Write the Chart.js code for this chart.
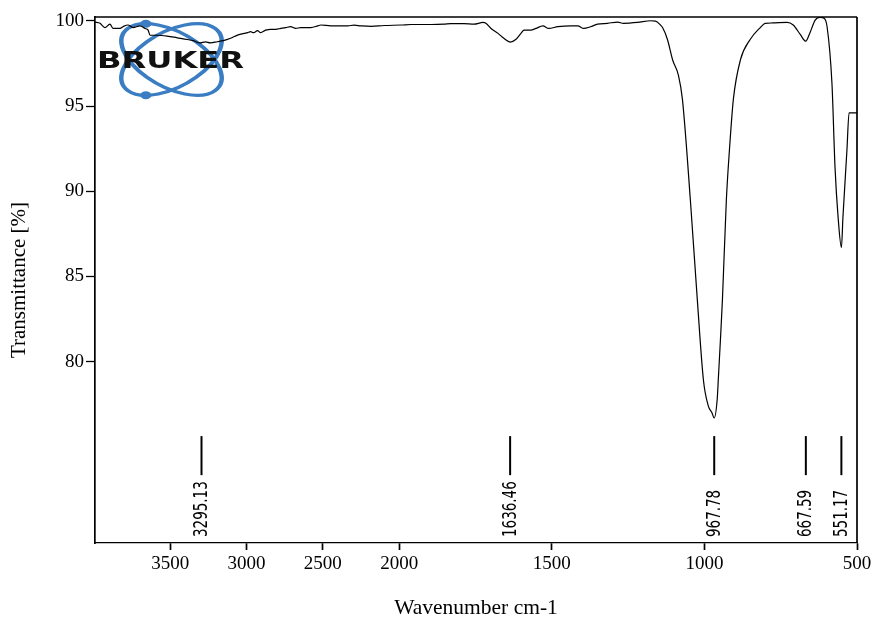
<!DOCTYPE html>
<html>
<head>
<meta charset="utf-8">
<script src="https://cdn.jsdelivr.net/npm/chart.js@4.4.1/dist/chart.umd.min.js"></script>
<style>
  html, body { margin: 0; padding: 0; background: #fff; }
  canvas { display: block; }
</style>
</head>
<body>
<canvas id="chart" width="872" height="622"></canvas>
<script>
// spectrum (wavenumber cm-1 / transmittance %)
var WAVENUMBER = [3993, 3960, 3928, 3895, 3875, 3850, 3829, 3810, 3777, 3744, 3698, 3665, 3645, 3632, 3586,
  3520, 3454, 3388, 3349, 3303, 3270, 3237, 3191, 3152, 3105, 3059, 2993, 2974, 2954, 2928, 2908, 2875,
  2842, 2809, 2776, 2743, 2711, 2678, 2645, 2579, 2533, 2513, 2447, 2382, 2336, 2296, 2250, 2184, 2099,
  1993, 1961, 1895, 1853, 1830, 1788, 1755, 1725, 1716, 1699, 1676, 1657, 1636, 1618, 1601, 1591, 1569,
  1552, 1529, 1510, 1480, 1438, 1415, 1395, 1373, 1350, 1317, 1284, 1265, 1219, 1176, 1160, 1144, 1137,
  1121, 1104, 1085, 1072, 1046, 1023, 1003, 987, 975, 968, 958, 954, 948, 941, 928, 918, 905, 882,
  850, 817, 801, 778, 729, 709, 686, 668, 654, 637, 621, 608, 598,
  582, 572, 562, 551, 546, 533, 526, 500];
var TRANSMITTANCE = [99.92, 99.85, 99.6, 99.8, 99.55, 99.55, 99.55, 99.65, 99.75, 99.6, 99.7, 99.55, 99.45, 99.15, 99.15,
  99.1, 99.0, 98.9, 98.83, 98.7, 98.76, 98.7, 98.77, 98.83, 98.97, 99.16, 99.3, 99.36, 99.3, 99.42, 99.3, 99.45,
  99.5, 99.5, 99.55, 99.6, 99.65, 99.55, 99.6, 99.6, 99.7, 99.75, 99.7, 99.7, 99.7, 99.74, 99.7, 99.67, 99.72,
  99.75, 99.78, 99.78, 99.8, 99.83, 99.83, 99.8, 99.9, 99.85, 99.55, 99.26, 98.97, 98.75, 98.9, 99.26, 99.45, 99.45,
  99.55, 99.7, 99.55, 99.65, 99.7, 99.7, 99.55, 99.65, 99.8, 99.85, 99.92, 99.85, 99.9, 100.0, 99.98, 99.75, 99.6,
  98.9, 97.7, 96.8, 95.4, 89.5, 83.6, 78.9, 77.4, 77.0, 76.7, 77.8, 79.1, 81.1, 83.6, 89.5, 92.4, 95.4, 97.7,
  98.9, 99.6, 99.85, 99.87, 99.9, 99.75, 99.2, 98.8, 99.3, 100.04, 100.2, 100.15, 99.65,
  96.3, 91.4, 88.5, 86.7, 88.5, 92.4, 94.6, 94.6];

// picked peaks
var PEAKS = [3295.13, 1636.46, 967.78, 667.59, 551.17];

// axes
var X_TICKS = [3500, 3000, 2500, 2000, 1500, 1000, 500];
var Y_TICKS = [80, 85, 90, 95, 100];
var X_MIN = 500, X_MAX = 3993;
var Y_MIN = 69.37, Y_MAX = 100.22;
var X_BREAK = 2000;   // above this the axis runs at half scale

// peak marker placement, in transmittance units
var MARK_TOP = 75.64, MARK_BOTTOM = 73.35, LABEL_BASE = 69.72;

// the OPUS parts (logo, peak labels) come out stretched sideways in the source figure
var OPUS_STRETCH = 1.4;
var LOGO_BLUE = '#3a7dc2';

function fold(w) {
  return w <= X_BREAK ? w : X_BREAK + (w - X_BREAK) / 2;
}

// linear scale whose upper part (> 2000 cm-1) is compressed 2:1, as OPUS prints it
class SplitScale extends Chart.LinearScale {
  buildTicks() {
    return X_TICKS.map(function (v) { return { value: v }; });
  }
  configure() {
    super.configure();
    this._startValue = fold(this.min);
    this._endValue = fold(this.max);
    this._valueRange = this._endValue - this._startValue;
  }
  getPixelForValue(value) {
    return super.getPixelForValue(fold(value));
  }
}
SplitScale.id = 'split';
SplitScale.defaults = Chart.LinearScale.defaults;
Chart.register(SplitScale);

var points = WAVENUMBER.map(function (w, i) { return { x: w, y: TRANSMITTANCE[i] }; });

// no extra room for overhanging end labels, the layout padding handles it
function noOverhang(s) {
  s.paddingLeft = 0;
  s.paddingRight = 0;
  s.paddingTop = 0;
  s.paddingBottom = 0;
}

var frame = {
  id: 'frame',
  afterDraw: function (chart) {
    var a = chart.chartArea, ctx = chart.ctx;
    ctx.save();
    ctx.strokeStyle = '#000';
    ctx.lineWidth = 1.3;
    ctx.beginPath();
    ctx.moveTo(a.left, a.top);
    ctx.lineTo(a.right, a.top);
    ctx.stroke();
    ctx.lineWidth = 1.7;
    ctx.beginPath();
    ctx.moveTo(a.right, a.top);
    ctx.lineTo(a.right, a.bottom);
    ctx.stroke();
    ctx.restore();
  }
};

var bruker = {
  id: 'bruker',
  beforeDatasetsDraw: function (chart) {
    var ctx = chart.ctx, a = chart.chartArea;
    var ra = 44, rb = 25, tilt = Math.PI / 4;
    ctx.save();
    ctx.translate(a.left + 76.5, a.top + 42.5);
    ctx.scale(OPUS_STRETCH, 1);
    ctx.strokeStyle = LOGO_BLUE;
    ctx.fillStyle = LOGO_BLUE;
    ctx.lineWidth = 3.2;
    [1, -1].forEach(function (s) {
      ctx.beginPath();
      ctx.ellipse(0, 0, ra, rb, s * tilt, 0, Math.PI * 2);
      ctx.stroke();
    });
    // electrons sit at the top of one orbit and the bottom of the other
    var hh = Math.sqrt(ra * ra * Math.sin(tilt) * Math.sin(tilt) + rb * rb * Math.cos(tilt) * Math.cos(tilt));
    var dx = (ra * ra - rb * rb) * Math.sin(tilt) * Math.cos(tilt) / hh;
    [[-dx, -hh], [-dx, hh]].forEach(function (p) {
      ctx.beginPath();
      ctx.arc(p[0], p[1], 4, 0, Math.PI * 2);
      ctx.fill();
    });
    ctx.fillStyle = '#111';
    ctx.font = 'bold 23px "DejaVu Sans"';
    ctx.textAlign = 'center';
    ctx.textBaseline = 'alphabetic';
    ctx.fillText('BRUKER', -0.7, 8.5);
    ctx.restore();
  }
};

var peakMarks = {
  id: 'peakMarks',
  afterDatasetsDraw: function (chart) {
    var x = chart.scales.x, y = chart.scales.y, ctx = chart.ctx;
    ctx.save();
    ctx.strokeStyle = '#000';
    ctx.fillStyle = '#000';
    ctx.lineWidth = 2;
    ctx.font = '13.5px "DejaVu Sans"';
    ctx.textAlign = 'left';
    ctx.textBaseline = 'middle';
    PEAKS.forEach(function (p) {
      var px = x.getPixelForValue(p);
      ctx.beginPath();
      ctx.moveTo(px, y.getPixelForValue(MARK_TOP));
      ctx.lineTo(px, y.getPixelForValue(MARK_BOTTOM));
      ctx.stroke();
      ctx.save();
      ctx.translate(px + 0.7, y.getPixelForValue(LABEL_BASE));
      ctx.scale(OPUS_STRETCH, 1);
      ctx.rotate(-Math.PI / 2);
      ctx.fillText(p.toFixed(2), 0, 0);
      ctx.restore();
    });
    ctx.restore();
  }
};

new Chart(document.getElementById('chart'), {
  type: 'line',
  data: {
    datasets: [{
      data: points,
      borderColor: '#000',
      borderWidth: 1.2,
      pointRadius: 0,
      fill: false,
      cubicInterpolationMode: 'monotone'
    }]
  },
  options: {
    responsive: false,
    animation: false,
    events: [],
    layout: { padding: { top: 17, right: 15, left: 0, bottom: 0 } },
    plugins: {
      legend: { display: false },
      tooltip: { enabled: false }
    },
    scales: {
      x: {
        type: 'split',
        min: X_MIN,
        max: X_MAX,
        reverse: true,
        border: { display: true, color: '#000', width: 1.3 },
        grid: { drawOnChartArea: false, drawTicks: true, tickLength: 7, tickColor: '#000', tickWidth: 1.7 },
        ticks: {
          color: '#000',
          padding: 3,
          maxRotation: 0,
          autoSkip: false,
          font: { family: '"Liberation Serif"', size: 19 },
          callback: function (v) { return String(v); }
        },
        title: {
          display: true,
          text: 'Wavenumber cm-1',
          color: '#000',
          font: { family: '"Liberation Serif"', size: 21.5 },
          padding: { top: 0, bottom: 0.5 }
        },
        afterFit: function (s) { s.height = 79; noOverhang(s); }
      },
      y: {
        min: Y_MIN,
        max: Y_MAX,
        border: { display: true, color: '#000', width: 1.7 },
        grid: { drawOnChartArea: false, drawTicks: true, tickLength: 9, tickColor: '#000', tickWidth: 1.3 },
        ticks: {
          color: '#000',
          padding: 2,
          font: { family: '"Liberation Serif"', size: 19 }
        },
        afterBuildTicks: function (s) {
          s.ticks = Y_TICKS.map(function (v) { return { value: v }; });
        },
        title: {
          display: true,
          text: 'Transmittance [%]',
          color: '#000',
          font: { family: '"Liberation Serif"', size: 21 },
          padding: { top: 6.5, bottom: 0 }
        },
        afterFit: function (s) { s.width = 95; noOverhang(s); }
      }
    }
  },
  plugins: [bruker, peakMarks, frame]
});
</script>
</body>
</html>
